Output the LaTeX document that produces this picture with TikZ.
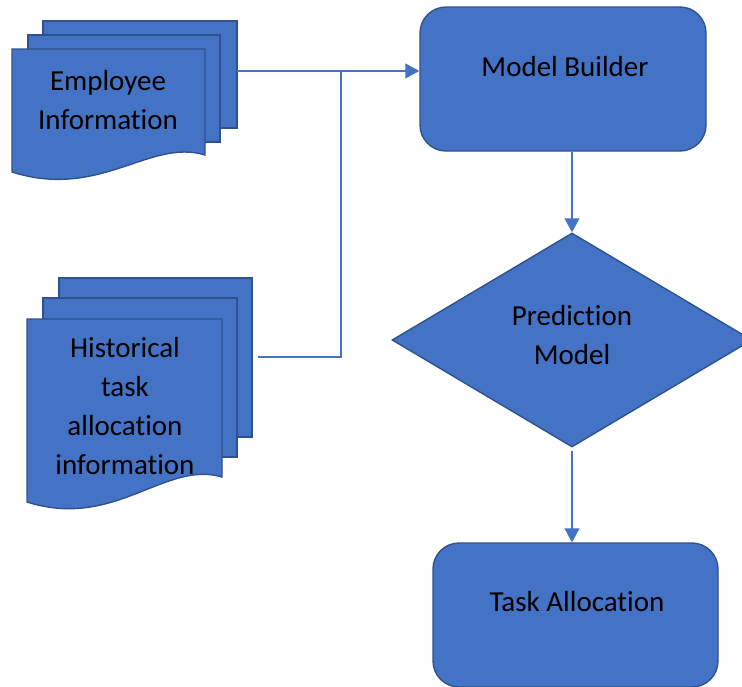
\documentclass[tikz,border=0pt]{standalone}
\usepackage{fontspec}
\setmainfont{Carlito}[Ligatures={NoCommon}]
\usetikzlibrary{shapes.geometric,arrows.meta}
\definecolor{boxfill}{HTML}{4472C4}
\definecolor{boxline}{HTML}{2F528F}
\definecolor{connline}{HTML}{4472C4}
\tikzset{
  sheet/.style={fill=boxfill,draw=boxline,line width=1.4pt,line join=miter},
  rbox/.style={fill=boxfill,draw=boxline,line width=1.4pt,rounded corners=26pt,inner sep=0pt},
  txt/.style={align=center,inner sep=0pt,font=\fontsize{29}{38.7}\selectfont},
  conn/.style={draw=connline,line width=1.1pt},
  arr/.style={conn,-{Triangle[length=14pt,width=15pt]}}
}
\begin{document}
\begin{tikzpicture}[x=1pt,y=-1pt]
\useasboundingbox (0,0) rectangle (742,686);
% Employee information stack
\path[sheet] (43,21) rectangle (237,128);
\path[sheet] (28,35) rectangle (220,142);
\path[sheet] (12,49) -- (205,49) -- (205,155) .. controls (150,138) and (100,200) .. (12,172) -- cycle;
\node[txt] (emp) at (108,100) {Employee\\Information};
% Historical stack
\path[sheet] (59,278) rectangle (252,437);
\path[sheet] (43,298) rectangle (237,457);
\path[sheet] (27,319) -- (222,319) -- (222,477) .. controls (165,460) and (115,530) .. (27,502) -- cycle;
\node[txt] (hist) at (125,406) {Historical\\task\\allocation\\information};
% Model builder
\node[rbox,minimum width=286pt,minimum height=144pt] (mb) at (563,79) {};
\node[txt] (mbt) at (565,67) {Model Builder};
% Prediction model
\node[diamond,fill=boxfill,draw=boxline,line width=1.4pt,inner sep=0pt,minimum width=360pt,minimum height=214pt] (pm) at (572,340) {};
\node[txt] (pmt) at (572,335) {Prediction\\Model};
% Task allocation
\node[rbox,minimum width=285pt,minimum height=144pt] (ta) at (575.5,615) {};
\node[txt] (tat) at (577,602) {Task Allocation};
% connectors
\coordinate (eout) at (237,71);
\coordinate (hout) at (258,357);
\coordinate (junc) at (341,71);
\draw[arr] (eout) -- (eout -| mb.west);
\draw[conn] (hout) -| (junc);
\draw[arr] (pm.north |- mb.south) -- (pm.north);
\draw[arr,shorten <=3pt] (pm.south) -- (pm.south |- ta.north);
\end{tikzpicture}
\end{document}
